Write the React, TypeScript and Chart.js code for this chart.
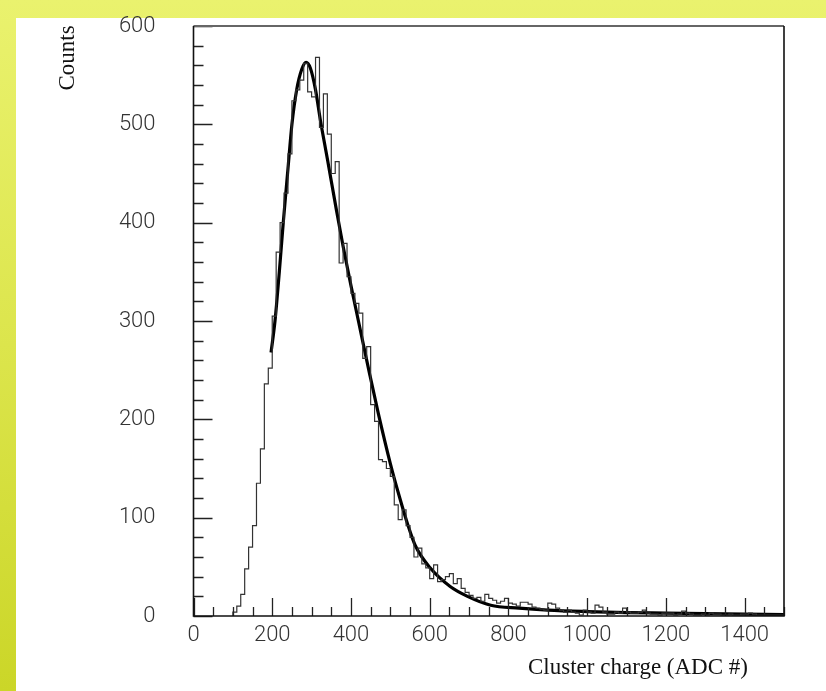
import { useEffect, useRef } from 'react';
import { Chart, registerables } from 'chart.js';

Chart.register(...registerables);

// ---- data ----
const BIN_START = 100;
const BIN_WIDTH = 10;
// histogram counts, one per 10-unit bin starting at 100
const counts = [
  4, 10, 22, 48, 70, 92, 135, 170, 236, 252,
  305, 370, 400, 430, 470, 524, 535, 545, 562, 533,
  528, 568, 497, 531, 490, 450, 462, 359, 379, 345,
  328, 318, 308, 262, 274, 215, 198, 159, 157, 150,
  142, 113, 98, 108, 92, 80, 60, 69, 53, 49,
  38, 52, 35, 37, 40, 43, 33, 38, 28, 24,
  21, 18, 19, 15, 22, 18, 16, 13, 15, 18,
  13, 12, 10, 14, 14, 12, 9, 8, 7, 6,
  13, 12, 8, 6, 4, 6, 4, 3, 1, 6,
  4, 3, 11, 9, 4, 2, 2, 4, 3, 8,
  4, 3, 3, 4, 6, 3, 2, 2, 1, 3,
  3, 3, 1, 2, 5, 3, 2, 1, 1, 2,
  1, 3, 2, 2, 1, 1, 2, 1, 1, 2,
  2, 3, 2, 1, 1, 1, 1, 1, 1, 1,
];
// fitted curve, sampled points
const fitX = [197, 207, 218, 228, 240, 250, 262, 275, 286, 297, 310, 322, 340, 363, 380, 400, 420, 448, 470, 500, 524, 545, 563, 601, 652, 696, 755, 827, 900, 1000, 1100, 1200, 1300, 1400, 1500];
const fitY = [268, 300, 350, 400, 455, 500, 535, 556, 563, 557, 535, 505, 465, 413, 376, 336, 298, 245, 205, 155, 120, 92, 72, 49, 30, 20, 11, 8, 6, 4.5, 3.5, 3, 2.5, 2, 1.5];

const X_MIN = 0;
const X_MAX = 1500;
const X_LABEL_STEP = 200;
const X_MINOR_STEP = 50;
const Y_MIN = 0;
const Y_MAX = 600;
const Y_LABEL_STEP = 100;
const Y_MINOR_STEP = 20;

const X_TITLE = 'Cluster charge (ADC #)';
const Y_TITLE = 'Counts';

const TICK_FONT = { family: 'Roboto, "Liberation Sans", sans-serif', size: 22, weight: 300 as any };
const TITLE_FONT = '23px "Liberation Serif", "Times New Roman", serif';

const framePlugin = {
  id: 'frameAndTicks',
  afterDatasetsDraw(chart: any) {
    const { ctx, chartArea: a, scales } = chart;
    const xs = scales.x;
    const ys = scales.y;
    ctx.save();
    ctx.strokeStyle = '#222';
    ctx.lineWidth = 1.3;
    ctx.beginPath();
    for (let v = X_MIN; v <= X_MAX; v += X_MINOR_STEP) {
      const px = Math.round(xs.getPixelForValue(v)) + 0.5;
      const len = v % X_LABEL_STEP === 0 ? 18 : 9;
      ctx.moveTo(px, a.bottom);
      ctx.lineTo(px, a.bottom - len);
    }
    for (let v = Y_MIN; v <= Y_MAX; v += Y_MINOR_STEP) {
      const py = Math.round(ys.getPixelForValue(v)) + 0.5;
      const len = v % Y_LABEL_STEP === 0 ? 19 : 10;
      ctx.moveTo(a.left, py);
      ctx.lineTo(a.left + len, py);
    }
    ctx.stroke();
    ctx.lineWidth = 2;
    ctx.strokeStyle = '#666';
    ctx.beginPath();
    ctx.moveTo(a.left, a.top);
    ctx.lineTo(a.right, a.top);
    ctx.stroke();
    ctx.strokeStyle = '#111';
    ctx.lineWidth = 1.6;
    ctx.beginPath();
    ctx.moveTo(a.right, a.top);
    ctx.lineTo(a.right, a.bottom);
    ctx.lineTo(a.left, a.bottom);
    ctx.lineTo(a.left, a.top);
    ctx.stroke();
    ctx.restore();
  },
  afterDraw(chart: any) {
    const { ctx } = chart;
    ctx.save();
    ctx.fillStyle = '#111';
    ctx.font = TITLE_FONT;
    ctx.textAlign = 'center';
    ctx.textBaseline = 'middle';
    ctx.fillText(X_TITLE, 638, 668);
    ctx.translate(68, 58);
    ctx.rotate(-Math.PI / 2);
    ctx.fillText(Y_TITLE, 0, 0);
    ctx.restore();
  },
};

export default function App() {
  const ref = useRef<HTMLCanvasElement>(null);
  useEffect(() => {
    const histPoints = [
      { x: BIN_START, y: 0 },
      ...counts.map((c, i) => ({ x: BIN_START + i * BIN_WIDTH, y: c })),
      { x: BIN_START + counts.length * BIN_WIDTH, y: counts[counts.length - 1] },
    ];
    const fitPoints = fitX.map((x, i) => ({ x, y: fitY[i] }));
    const chart = new Chart(ref.current as HTMLCanvasElement, {
      type: 'line',
      data: {
        datasets: [
          { data: histPoints, stepped: true, borderColor: '#333', borderWidth: 1.2, pointRadius: 0, fill: false } as any,
          { data: fitPoints, borderColor: '#000', borderWidth: 3.2, pointRadius: 0, cubicInterpolationMode: 'monotone', fill: false } as any,
        ],
      },
      options: {
        animation: false,
        responsive: false,
        devicePixelRatio: 1,
        layout: { padding: { top: 26, right: 42, left: 0, bottom: 0 } },
        plugins: { legend: { display: false }, tooltip: { enabled: false } },
        scales: {
          x: {
            type: 'linear',
            min: X_MIN,
            max: X_MAX,
            grid: { display: false, drawTicks: false },
            border: { display: false },
            ticks: { stepSize: X_LABEL_STEP, includeBounds: false, padding: 6, maxRotation: 0, autoSkip: false, font: TICK_FONT, color: '#333', callback: (v: any) => String(v) },
            afterFit: (s: any) => { s.height = 75; s.paddingLeft = 0; s.paddingRight = 0; },
          },
          y: {
            type: 'linear',
            min: Y_MIN,
            max: Y_MAX,
            grid: { display: false, drawTicks: false },
            border: { display: false },
            ticks: { stepSize: Y_LABEL_STEP, padding: 38, font: TICK_FONT, color: '#333', callback: (v: any) => String(v) },
            afterFit: (s: any) => { s.width = 193.5; s.paddingTop = 0; s.paddingBottom = 0; },
          },
        },
      } as any,
      plugins: [framePlugin],
    });
    return () => chart.destroy();
  }, []);

  return (
    <div style={{ position: 'fixed', left: 0, top: 0, width: 826, height: 691, background: 'linear-gradient(180deg, #eaf26e 0%, #dce54c 50%, #cbd628 100%)' }}>
      <div style={{ position: 'absolute', left: 16, top: 18, width: 810, height: 673, background: '#ffffff' }} />
      <canvas ref={ref} width={826} height={691} style={{ position: 'absolute', left: 0, top: 0, display: 'block', width: 826, height: 691 }} />
    </div>
  );
}
